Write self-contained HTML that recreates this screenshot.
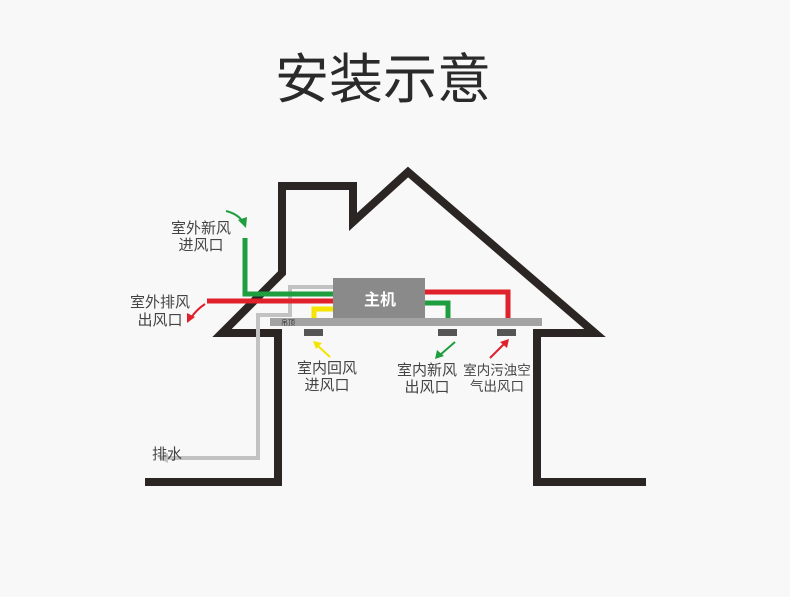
<!DOCTYPE html><html><head><meta charset="utf-8"><style>
body{margin:0;background:#f8f8f8;}
svg{display:block;font-family:"Liberation Sans","Noto Sans CJK SC",sans-serif;}
</style></head><body>
<svg width="790" height="597" viewBox="0 0 790 597">
<rect width="790" height="597" fill="#f8f8f8"/>
<text x="383" y="98" font-size="54" fill="#2a2a2a" text-anchor="middle">安装示意</text>
<polyline points="145,482 278,482 278,333 222,333 282,273 282,186 353,186 353,222 408,172 595,333 537,333 537,482 646,482" fill="none" stroke="#2b2523" stroke-width="8" stroke-linejoin="miter"/>
<polyline points="333,287 290,287 290,315 258,315 258,458 165,458" fill="none" stroke="#c2c2c2" stroke-width="4"/>
<polygon points="158,458 168,453 168,463" fill="#c2c2c2"/>
<polyline points="245,238 245,294 333,294" fill="none" stroke="#1e9e3e" stroke-width="5"/>
<line x1="207" y1="301" x2="333" y2="301" stroke="#e0202a" stroke-width="5"/>
<polyline points="333,309 314,309 314,320" fill="none" stroke="#f5e400" stroke-width="5"/>
<polyline points="425,292 508,292 508,318" fill="none" stroke="#e0202a" stroke-width="5"/>
<polyline points="425,303 448,303 448,318" fill="none" stroke="#1e9e3e" stroke-width="5"/>
<rect x="333" y="278" width="92" height="42" fill="#8a8a8a"/>
<text x="380" y="305" font-size="16" font-weight="bold" fill="#fff" text-anchor="middle">主机</text>
<rect x="270" y="318" width="272" height="8" fill="#a3a3a3"/>
<text x="281" y="325" font-size="7" fill="#333">吊顶</text>
<rect x="304" y="329" width="19" height="7" fill="#555"/>
<rect x="438" y="329" width="19" height="7" fill="#555"/>
<rect x="497" y="329" width="19" height="7" fill="#555"/>
<path d="M226,211 Q238,214 243,222" fill="none" stroke="#1e9e3e" stroke-width="2"/><polygon points="246,228 238,220 247,217" fill="#1e9e3e"/>
<path d="M205,304 Q196,310 191,318" fill="none" stroke="#e0202a" stroke-width="2"/><polygon points="187,323 187,313 195,317" fill="#e0202a"/>
<line x1="330" y1="357" x2="318" y2="346" stroke="#f5e400" stroke-width="2"/><polygon points="313,341 322,343 316,349" fill="#f5e400"/>
<line x1="455" y1="342" x2="440" y2="355" stroke="#1e9e3e" stroke-width="2"/><polygon points="435,359 437,350 444,356" fill="#1e9e3e"/>
<line x1="490" y1="358" x2="504" y2="344" stroke="#e0202a" stroke-width="2"/><polygon points="509,339 507,348 500,342" fill="#e0202a"/>
<g font-size="15" fill="#444" text-anchor="middle">
<text x="201" y="233">室外新风</text><text x="201" y="250">进风口</text>
<text x="160" y="307">室外排风</text><text x="160" y="325">出风口</text>
<text x="327" y="373">室内回风</text><text x="327" y="390">进风口</text>
<text x="427" y="375">室内新风</text><text x="427" y="392">出风口</text>
<text x="497" y="375" font-size="13.5">室内污浊空</text><text x="497" y="391" font-size="13.5">气出风口</text>
<text x="167" y="459">排水</text>
</g>
</svg>
</body></html>
